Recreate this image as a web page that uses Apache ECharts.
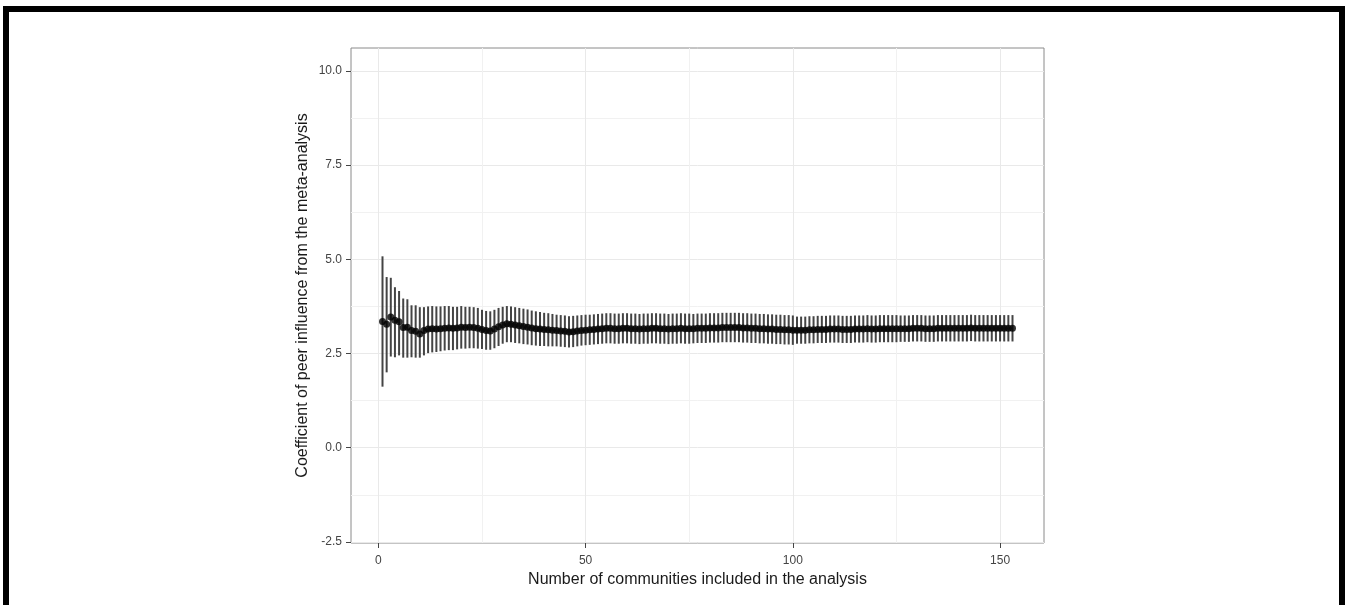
<!DOCTYPE html>
<html>
<head>
<meta charset="utf-8">
<script src="https://cdn.jsdelivr.net/npm/echarts@6/dist/echarts.min.js"></script>
<style>
html,body{margin:0;padding:0;background:#fff;width:1348px;height:605px;overflow:hidden;}
#chart{position:absolute;left:0;top:0;width:1348px;height:605px;}
#frame{position:absolute;left:3px;top:6px;width:1330px;height:620px;border:6px solid #000;border-bottom:none;pointer-events:none;}
</style>
</head>
<body>
<div id="chart"></div>
<div id="frame"></div>
<script>
// Number of communities included (x), point estimate, lower and upper bounds
const estimate = [
  3.35,3.28,3.47,3.38,3.34,3.19,3.20,3.11,3.09,3.02,3.11,3.15,
  3.16,3.15,3.16,3.17,3.18,3.17,3.18,3.20,3.19,3.20,3.19,3.17,
  3.14,3.11,3.10,3.15,3.21,3.26,
  3.29,3.28,3.26,3.24,3.22,3.20,3.18,3.16,3.15,3.14,3.13,3.12,3.11,3.10,3.09,3.07,3.08,3.10,3.11,3.12,
  3.13,3.14,3.15,3.16,3.17,3.17,3.16,3.16,3.17,3.17,3.16,3.16,3.15,3.16,3.16,3.17,3.17,3.16,3.16,3.15,3.16,3.16,3.17,3.16,3.16,
  3.16,3.17,3.17,3.17,3.18,3.18,3.18,3.19,3.19,3.19,3.19,3.19,3.18,3.18,3.17,3.17,3.16,3.16,3.15,3.15,3.14,3.14,3.13,3.13,3.12,
  3.12,3.12,3.12,3.13,3.13,3.14,3.14,3.14,3.15,3.15,3.15,3.14,3.14,3.14,3.15,3.15,3.15,3.16,3.15,3.15,3.16,3.16,3.16,3.16,3.16,
  3.16,3.16,3.16,3.17,3.17,3.17,3.16,3.16,3.16,3.17,3.17,3.17,3.17,3.17,3.17,3.17,3.17,3.18,3.17,3.17,3.17,3.17,3.17,3.17,3.17,3.17,3.17,3.17
];
const lower = [
  1.62,2.00,2.42,2.40,2.45,2.39,2.39,2.40,2.39,2.39,2.45,2.51,
  2.53,2.54,2.56,2.58,2.59,2.59,2.61,2.63,2.63,2.64,2.64,2.63,
  2.62,2.60,2.60,2.64,2.70,2.76,
  2.80,2.80,2.78,2.77,2.75,2.74,2.72,2.71,2.70,2.70,2.69,2.69,2.69,2.68,2.67,2.66,2.67,2.69,2.71,2.72,
  2.73,2.74,2.75,2.76,2.77,2.77,2.76,2.76,2.77,2.77,2.76,2.76,2.75,2.76,2.76,2.77,2.77,2.76,2.76,2.75,2.76,2.76,2.77,2.76,2.76,
  2.77,2.78,2.78,2.78,2.79,2.79,2.79,2.80,2.80,2.80,2.80,2.80,2.79,2.79,2.78,2.78,2.77,2.77,2.76,2.76,2.75,2.75,2.74,2.74,2.73,
  2.76,2.76,2.76,2.77,2.77,2.78,2.78,2.78,2.79,2.79,2.79,2.78,2.78,2.78,2.79,2.79,2.79,2.80,2.79,2.79,2.80,2.80,2.80,2.80,2.80,
  2.81,2.81,2.81,2.82,2.82,2.82,2.81,2.81,2.81,2.82,2.82,2.82,2.82,2.82,2.82,2.82,2.82,2.83,2.82,2.82,2.82,2.82,2.82,2.82,2.82,2.82,2.82,2.82
];
const upper = [
  5.08,4.53,4.51,4.26,4.16,3.96,3.94,3.78,3.78,3.73,3.73,3.75,
  3.76,3.75,3.75,3.76,3.76,3.74,3.74,3.76,3.74,3.74,3.73,3.71,
  3.66,3.63,3.62,3.66,3.71,3.74,
  3.76,3.75,3.73,3.71,3.69,3.67,3.64,3.62,3.60,3.58,3.57,3.55,3.53,3.52,3.51,3.49,3.50,3.51,3.52,3.53,
  3.53,3.54,3.55,3.56,3.57,3.57,3.56,3.56,3.57,3.57,3.56,3.56,3.55,3.56,3.56,3.57,3.57,3.56,3.56,3.55,3.56,3.56,3.57,3.56,3.56,
  3.55,3.56,3.56,3.56,3.57,3.57,3.57,3.58,3.58,3.58,3.58,3.58,3.57,3.57,3.56,3.56,3.55,3.55,3.54,3.54,3.53,3.53,3.52,3.52,3.51,
  3.48,3.48,3.48,3.49,3.49,3.50,3.50,3.50,3.51,3.51,3.51,3.50,3.50,3.50,3.51,3.51,3.51,3.52,3.51,3.51,3.52,3.52,3.52,3.52,3.52,
  3.51,3.51,3.51,3.52,3.52,3.52,3.51,3.51,3.51,3.52,3.52,3.52,3.52,3.52,3.52,3.52,3.52,3.53,3.52,3.52,3.52,3.52,3.52,3.52,3.52,3.52,3.52,3.52
];
const xTicks = [0, 50, 100, 150];
const xMinorTicks = [25, 75, 125];
const yTicks = [-2.5, 0, 2.5, 5, 7.5, 10];
const yMinorTicks = [-1.25, 1.25, 3.75, 6.25, 8.75];
const xTitle = 'Number of communities included in the analysis';
const yTitle = 'Coefficient of peer influence from the meta-analysis';

const communities = estimate.map((_, i) => i + 1);
const pointData = communities.map((n, i) => [n, estimate[i]]);
const barData = communities.map((n, i) => [n, lower[i], upper[i]]);

const FONT = "'Liberation Sans', Arial, sans-serif";
const chart = echarts.init(document.getElementById('chart'), null, {renderer: 'canvas'});
const option = {
  backgroundColor: '#ffffff',
  animation: false,
  grid: {left: 351, top: 48, right: 304, bottom: 62, show: true, borderColor: '#8a8a8a', borderWidth: 1, backgroundColor: 'transparent'},
  xAxis: [
    {
      type: 'value', min: -6.6, max: 160.6,
      name: xTitle, nameLocation: 'middle', nameGap: 27,
      nameTextStyle: {fontFamily: FONT, fontSize: 16, color: '#1a1a1a'},
      axisLine: {show: false, onZero: false},
      axisTick: {show: true, length: 5, customValues: xTicks, lineStyle: {color: '#444', width: 1}},
      axisLabel: {show: true, customValues: xTicks, margin: 12, fontFamily: FONT, fontSize: 12, color: '#444'},
      splitLine: {show: true, lineStyle: {color: '#e9e9e9', width: 1}}
    },
    {
      type: 'value', min: -6.6, max: 160.6, position: 'top',
      axisLine: {show: false, onZero: false},
      axisTick: {show: false, customValues: xMinorTicks},
      axisLabel: {show: false, customValues: xMinorTicks},
      splitLine: {show: true, lineStyle: {color: '#f1f1f1', width: 1}}
    }
  ],
  yAxis: [
    {
      type: 'value', min: -2.53, max: 10.61,
      name: yTitle, nameLocation: 'middle', nameGap: 40, nameMoveOverlap: false,
      nameTextStyle: {fontFamily: FONT, fontSize: 16, color: '#1a1a1a'},
      axisLine: {show: false, onZero: false},
      axisTick: {show: true, length: 5, customValues: yTicks, lineStyle: {color: '#444', width: 1}},
      axisLabel: {show: true, customValues: yTicks, margin: 9, fontFamily: FONT, fontSize: 12, color: '#444',
        formatter: v => v.toFixed(1)},
      splitLine: {show: true, lineStyle: {color: '#e9e9e9', width: 1}}
    },
    {
      type: 'value', min: -2.53, max: 10.61, position: 'right',
      axisLine: {show: false, onZero: false},
      axisTick: {show: false, customValues: yMinorTicks},
      axisLabel: {show: false, customValues: yMinorTicks},
      splitLine: {show: true, lineStyle: {color: '#f1f1f1', width: 1}}
    }
  ],
  series: [
    {
      type: 'custom',
      xAxisIndex: 0, yAxisIndex: 0,
      data: barData,
      encode: {x: 0, y: [1, 2]},
      renderItem: function (params, api) {
        const x = api.value(0);
        const p1 = api.coord([x, api.value(1)]);
        const p2 = api.coord([x, api.value(2)]);
        return {
          type: 'line',
          shape: {x1: p1[0], y1: p1[1], x2: p2[0], y2: p2[1]},
          style: {stroke: '#444', lineWidth: 2}
        };
      },
      z: 2
    },
    {
      type: 'scatter',
      xAxisIndex: 0, yAxisIndex: 0,
      data: pointData,
      symbol: 'circle',
      symbolSize: 7,
      itemStyle: {color: '#000'},
      z: 3
    }
  ]
};
chart.setOption(option);
</script>
</body>
</html>
